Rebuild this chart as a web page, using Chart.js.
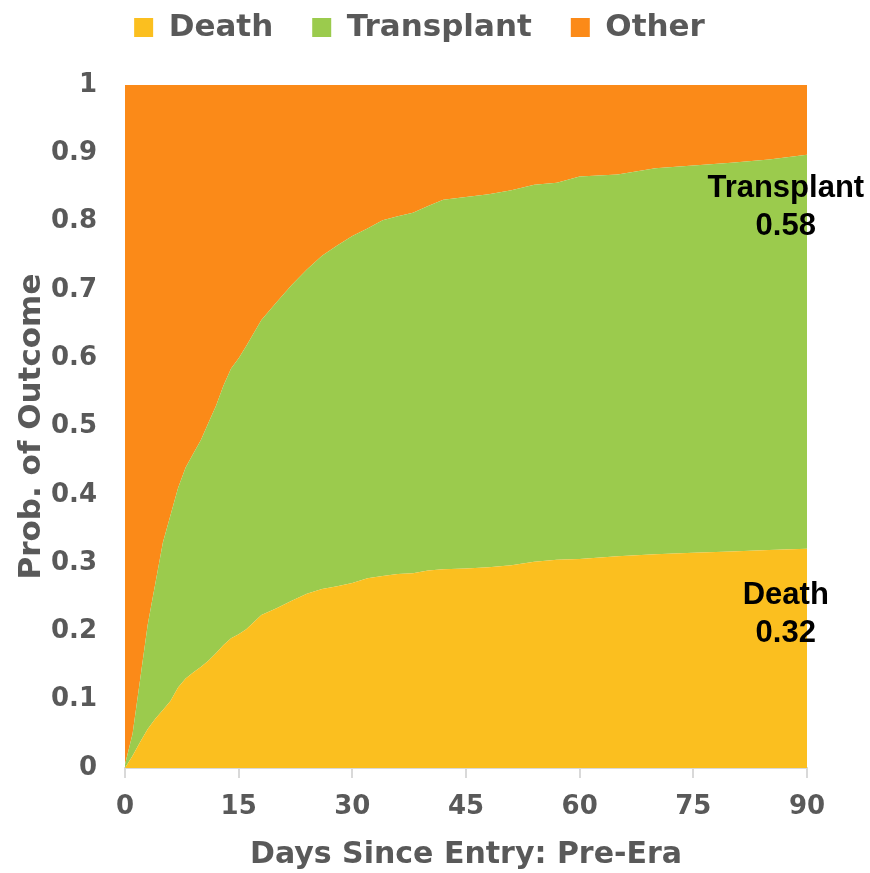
<!DOCTYPE html>
<html>
<head>
<meta charset="utf-8">
<script src="https://cdn.jsdelivr.net/npm/chart.js@4/dist/chart.umd.min.js"></script>
<style>
    body { margin: 0; background: #fff; }
    #wrap { width: 870px; height: 873px; }
</style>
</head>
<body>
<div id="wrap"><canvas id="outcomeChart" width="870" height="873"></canvas></div>
<script>
// days since entry where the curves were read
const days = [0, 1, 2, 3, 4, 5, 6, 7, 8, 9, 10, 11, 12, 13, 14, 15, 16, 18, 20, 22, 24, 26, 28, 30,
    32, 34, 36, 38, 40, 42, 45, 48, 51, 54, 57, 60, 65, 70, 75, 80, 85, 90];

// cumulative probability of death (top of the yellow band)
const deathTop = [0, 0.018, 0.038, 0.057, 0.072, 0.085, 0.098, 0.118, 0.131, 0.140, 0.148, 0.157,
    0.168, 0.180, 0.190, 0.196, 0.203, 0.224, 0.234, 0.245, 0.255, 0.262, 0.266, 0.271,
    0.278, 0.281, 0.284, 0.285, 0.289, 0.291, 0.292, 0.294, 0.297, 0.302, 0.305, 0.306,
    0.310, 0.313, 0.315, 0.317, 0.319, 0.321];

// death + transplant (top of the green band)
const transplantTop = [0.005, 0.05, 0.13, 0.21, 0.27, 0.33, 0.37, 0.41, 0.44, 0.46, 0.48, 0.505,
    0.53, 0.56, 0.585, 0.60, 0.618, 0.656, 0.682, 0.707, 0.730, 0.750, 0.765, 0.779,
    0.790, 0.802, 0.808, 0.813, 0.823, 0.832, 0.836, 0.840, 0.846, 0.854, 0.857, 0.866,
    0.869, 0.878, 0.882, 0.886, 0.891, 0.898];

// everything else fills up to 1
const otherTop = days.map(() => 1);

const seriesNames = ['Death', 'Transplant', 'Other'];
const seriesColors = ['#FBBF1F', '#9BCB4D', '#FB8A18'];
const xTicks = [0, 15, 30, 45, 60, 75, 90];

const endLabels = [
    {lines: ['Transplant', '0.58'], day: 87.2, prob: 0.849},
    {lines: ['Death', '0.32'], day: 87.2, prob: 0.252}
];

const gray = '#595959';
const axisFont = 'DejaVu Sans';

function toPoints(values) {
    return days.map((d, i) => ({x: d, y: values[i]}));
}

// black labels at the right end of the bands
const endLabelPlugin = {
    id: 'endLabels',
    afterDatasetsDraw(chart) {
        const ctx = chart.ctx;
        const xs = chart.scales.x;
        const ys = chart.scales.y;
        ctx.save();
        ctx.fillStyle = '#000';
        ctx.font = 'bold 31px "Liberation Sans", Arial, sans-serif';
        ctx.textAlign = 'center';
        ctx.textBaseline = 'middle';
        endLabels.forEach(item => {
            const x = xs.getPixelForValue(item.day);
            const y = ys.getPixelForValue(item.prob);
            item.lines.forEach((line, i) => ctx.fillText(line, x, y + i * 38));
        });
        ctx.restore();
    }
};

// more room between legend and plot
const legendSpacer = {
    id: 'legendSpacer',
    beforeInit(chart) {
        const fit = chart.legend.fit;
        chart.legend.fit = function () {
            fit.bind(chart.legend)();
            this.height += 32;
        };
    }
};

const tops = [deathTop, transplantTop, otherTop];
const datasets = tops.map((values, i) => ({
    label: seriesNames[i],
    data: toPoints(values),
    backgroundColor: seriesColors[i],
    borderColor: seriesColors[i],
    borderWidth: 0,
    pointRadius: 0,
    fill: i === 0 ? 'origin' : '-1',
    tension: 0
}));

new Chart(document.getElementById('outcomeChart'), {
    type: 'line',
    data: {datasets},
    options: {
        responsive: false,
        animation: false,
        layout: {padding: {top: -27, right: 63, bottom: 0, left: 32}},
        plugins: {
            legend: {
                position: 'top',
                labels: {
                    color: gray,
                    font: {family: axisFont, size: 31, weight: 'bold'},
                    boxWidth: 19,
                    boxHeight: 19,
                    padding: 39
                }
            },
            tooltip: {enabled: false}
        },
        scales: {
            x: {
                type: 'linear',
                min: 0,
                max: 90,
                afterBuildTicks: axis => { axis.ticks = xTicks.map(v => ({value: v})); },
                afterFit: axis => { axis.height = 105; },
                grid: {drawOnChartArea: false, drawTicks: true, tickLength: 10, color: '#D9D9D9', lineWidth: 2},
                border: {display: true, color: '#D9D9D9', width: 2},
                ticks: {
                    color: gray,
                    padding: 14,
                    font: {family: axisFont, size: 26, weight: 'bold'}
                },
                title: {
                    display: true,
                    text: 'Days Since Entry: Pre-Era',
                    color: gray,
                    font: {family: axisFont, size: 30, weight: 'bold'},
                    padding: {top: 15, bottom: 0}
                }
            },
            y: {
                min: 0,
                max: 1,
                afterFit: axis => { axis.width = 93; },
                ticks: {
                    stepSize: 0.1,
                    color: gray,
                    padding: 28,
                    font: {family: axisFont, size: 26, weight: 'bold'},
                    callback: value => String(Math.round(value * 10) / 10)
                },
                grid: {display: false, drawTicks: false},
                border: {display: false},
                title: {
                    display: true,
                    text: 'Prob. of Outcome',
                    color: gray,
                    font: {family: axisFont, size: 31, weight: 'bold'},
                    padding: {top: -19, bottom: 0}
                }
            }
        }
    },
    plugins: [endLabelPlugin, legendSpacer]
});
</script>
</body>
</html>
